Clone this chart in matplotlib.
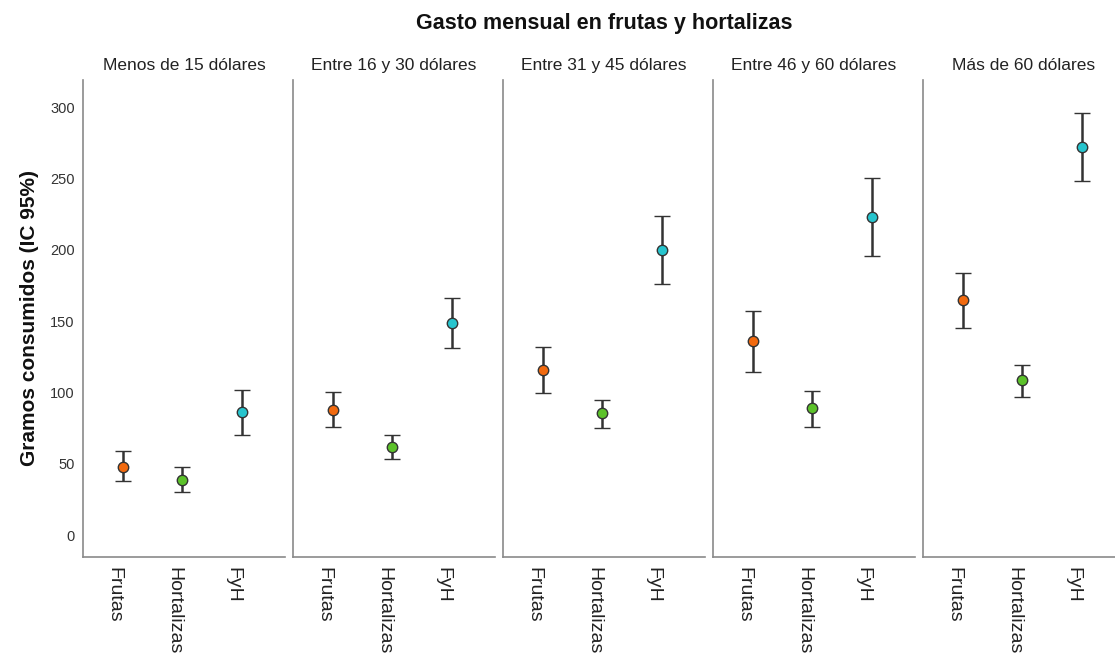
import numpy as np
import matplotlib
matplotlib.use("Agg")
import matplotlib.pyplot as plt

plt.rcParams['font.family'] = ['Liberation Sans', 'DejaVu Sans']

# Datos (media y límites del IC 95%)
grupos = ["Menos de 15 dólares", "Entre 16 y 30 dólares", "Entre 31 y 45 dólares",
          "Entre 46 y 60 dólares", "Más de 60 dólares"]
categorias = ["Frutas", "Hortalizas", "FyH"]
colores = ["#F26A0F", "#5CC22A", "#27C5CE"]

media = [[48, 38.5, 86],
         [88, 62, 148.5],
         [115.5, 85.5, 199.5],
         [136, 89, 223],
         [164.5, 108.5, 272]]
ic_inf = [[38, 30, 70],
          [76, 53, 131],
          [99.5, 75, 176],
          [114, 76, 195.5],
          [145, 97, 248]]
ic_sup = [[59, 47.5, 102],
          [100, 70, 166],
          [132, 95, 223.5],
          [157, 101, 250],
          [184, 119, 296]]

fig = plt.figure(figsize=(11.15, 6.55), dpi=100)
fig.text(604 / 1115, 1 - 23 / 655, "Gasto mensual en frutas y hortalizas", ha="center",
         va="center", fontsize=15.5, fontweight="bold", color="#111111")

lefts = [83, 293, 503, 713, 923]
W, H = 1115, 655
x = np.arange(len(categorias))

for i, g in enumerate(grupos):
    ax = fig.add_axes([lefts[i] / W, 1 - 557 / H, 202 / W, (557 - 80) / H])
    for j in range(len(categorias)):
        m = media[i][j]
        err = [[m - ic_inf[i][j]], [ic_sup[i][j] - m]]
        ax.errorbar(x[j], m, yerr=err, fmt="o", color="#333333", ecolor="#333333",
                    elinewidth=1.8, capsize=5.5, capthick=1.8,
                    markersize=7.5, markerfacecolor=colores[j],
                    markeredgecolor="#333333", markeredgewidth=1.0)
    ax.set_xlim(-0.67, 2.73)
    ax.set_ylim(-15.4, 319)
    ax.set_xticks(x)
    ax.set_xticklabels(categorias, rotation=270, fontsize=14, color="#222222", ha="right")
    ax.set_title(g, fontsize=12.5, color="#222222", pad=7)
    ax.tick_params(axis="both", length=0)
    ax.tick_params(axis="x", pad=7)
    for s in ["top", "right"]:
        ax.spines[s].set_visible(False)
    for s in ["left", "bottom"]:
        ax.spines[s].set_color("#8a8a8a")
        ax.spines[s].set_linewidth(1.2)
    if i == 0:
        ax.set_yticks([0, 50, 100, 150, 200, 250, 300])
        ax.tick_params(axis="y", labelsize=10.5, labelcolor="#333333", pad=6)
        ax.set_ylabel("Gramos consumidos (IC 95%)", fontsize=15, fontweight="bold",
                      color="#111111", labelpad=8)
    else:
        ax.set_yticks([])

fig.savefig("out.png", dpi=100)
